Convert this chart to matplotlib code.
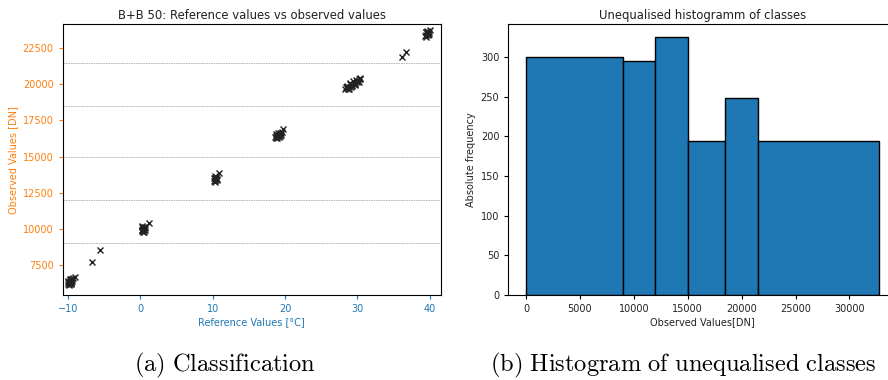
import numpy as np
import matplotlib.pyplot as plt

# reference temperature [°C] and observed value [DN] of every sample
ref_temp = [-9.9, -9.8, -9.7, -9.6, -9.9, -9.7, -9.5, -9.4, -9.6, -9.8, -9.5, -9.3, -9.7, -9.0,
            -9.8, -9.6, -9.4, -9.7, -9.5, -9.9,
            -6.7, -5.5,
            0.2, 0.3, 0.4, 0.5, 0.6, 0.3, 0.5, 0.4, 0.7, 0.2, 0.6, 0.4, 0.3, 0.5, 1.2,
            10.2, 10.3, 10.4, 10.5, 10.6, 10.4, 10.3, 10.5, 10.6, 10.2, 10.4, 10.9,
            18.6, 18.8, 18.9, 19.0, 19.1, 19.2, 19.3, 19.4, 19.5, 18.7, 19.0, 19.3, 18.8, 19.2, 19.6, 18.9, 19.7,
            28.3, 28.5, 28.7, 28.9, 29.1, 29.3, 29.5, 29.7, 29.9, 30.1, 30.3, 28.6, 29.0, 29.4, 29.8, 30.2,
            28.4, 28.8, 29.2, 29.6, 30.0, 30.4, 28.5, 29.0, 29.6, 30.2,
            36.1, 36.7,
            39.3, 39.5, 39.7, 39.9, 39.4, 39.6, 39.8, 40.0, 39.5, 39.7, 39.9, 39.4]
obs_dn = [6150, 6250, 6200, 6300, 6400, 6450, 6350, 6500, 6550, 6350, 6250, 6600, 6500, 6700,
          6100, 6150, 6400, 6300, 6450, 6300,
          7730, 8550,
          9850, 9950, 10050, 9900, 10100, 10150, 9800, 10000, 10050, 9900, 9950, 9750, 10200, 10100, 10430,
          13300, 13400, 13500, 13600, 13450, 13350, 13650, 13550, 13350, 13500, 13250, 13850,
          16350, 16400, 16450, 16500, 16400, 16550, 16600, 16500, 16650, 16300, 16600, 16450, 16550, 16350, 16700, 16300, 16900,
          19650, 19750, 19700, 19850, 19800, 19950, 20000, 20050, 20150, 20200, 20350, 19850, 20100, 20250, 20300, 20400,
          19800, 19650, 19900, 20100, 20250, 20450, 19900, 20050, 19950, 20150,
          21920, 22260,
          23350, 23450, 23550, 23650, 23600, 23700, 23400, 23750, 23300, 23500, 23500, 23650]

# class boundaries and class counts
class_edges = [0, 9000, 12000, 15000, 18500, 21500, 32768]
class_counts = [300, 295, 325, 194, 248, 194]

fig = plt.figure(figsize=(8.88, 3.8), dpi=100)

ax1 = fig.add_axes([0.0706, 0.2237, 0.4257, 0.7124])
for b in class_edges[1:-1]:
    ax1.axhline(b, color='0.68', linestyle=(0, (2, 1)), linewidth=0.6, zorder=0)
ax1.plot(ref_temp, obs_dn, 'x', color='#222222', markersize=5, markeredgewidth=1.0)
ax1.set_xlim(-10.7, 41.5)
ax1.set_ylim(5420, 24160)
ax1.set_xticks([-10, 0, 10, 20, 30, 40])
ax1.set_yticks([7500, 10000, 12500, 15000, 17500, 20000, 22500])
ax1.tick_params(axis='x', colors='tab:blue', labelsize=7, length=3)
ax1.tick_params(axis='y', colors='tab:orange', labelsize=7, length=3)
ax1.set_xlabel('Reference Values [°C]', color='tab:blue', fontsize=7, labelpad=2)
ax1.set_ylabel('Observed Values [DN]', color='tab:orange', fontsize=7, labelpad=3)
ax1.set_title('B+B 50: Reference values vs observed values', fontsize=8.4, pad=4, color='#222222')

ax2 = fig.add_axes([0.5724, 0.2237, 0.4377, 0.7124])
ax2.hist(class_edges[:-1], bins=class_edges, weights=class_counts,
         color='tab:blue', edgecolor='black', linewidth=1.0)
ax2.set_xlim(-1638, 34406)
ax2.set_ylim(0, 341.25)
ax2.tick_params(labelsize=7, length=3, labelcolor='#222222')
ax2.set_xlabel('Observed Values[DN]', fontsize=7, labelpad=2, color='#222222')
ax2.set_ylabel('Absolute frequency', fontsize=7, labelpad=3, color='#222222')
ax2.set_title('Unequalised histogramm of classes', fontsize=8.4, pad=4, color='#222222')

plt.rcParams['mathtext.fontset'] = 'cm'
fig.text(225 / 888, 1 - 365 / 380, r'$\mathrm{(a)\ Classification}$',
         ha='center', va='center', fontsize=17.6)
fig.text(683 / 888, 1 - 365 / 380, r'$\mathrm{(b)\ Histogram\ of\ unequalised\ classes}$',
         ha='center', va='center', fontsize=17.6)

fig.savefig('out.png', dpi=100)
